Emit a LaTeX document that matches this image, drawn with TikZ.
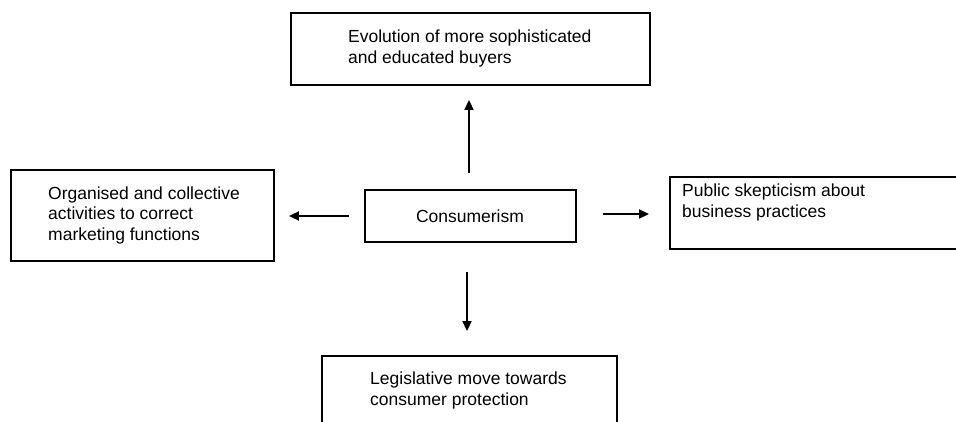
\documentclass[tikz,border=0pt]{standalone}
\usepackage{fontspec}
\setmainfont{Liberation Sans}
\usetikzlibrary{arrows.meta}
\begin{document}
\begin{tikzpicture}[x=1pt,y=-1pt,
  box/.style={draw=black,line width=1.9pt,rectangle,inner sep=0pt},
  label/.style={inner sep=0pt,align=left,font=\fontsize{17.5}{20.5}\selectfont},
  link/.style={line width=1.9pt,-{Triangle[length=10pt,width=9pt]}}]
  \useasboundingbox (0,0) rectangle (956,422);
  \clip (0,0) rectangle (956,422);
  % boxes
  \node[box,minimum width=359pt,minimum height=72pt] (buyers) at (470.5,49) {};
  \node[box,minimum width=263pt,minimum height=91pt] (organised) at (142.5,215.5) {};
  \node[box,minimum width=211pt,minimum height=52pt] (core) at (470.5,216) {};
  \node[box,minimum width=330pt,minimum height=72pt] (public) at (835,213) {};
  \node[box,minimum width=295pt,minimum height=104pt] (legal) at (469.5,408) {};
  % texts
  \node[label,anchor=west] (buyerstext) at (348,48.5) {Evolution of more sophisticated\\and educated buyers};
  \node[label,anchor=west] (organisedtext) at (48,215) {Organised and collective\\activities to correct\\marketing functions};
  \node[label] (coretext) at (470,216) {Consumerism};
  \node[label,anchor=west] (publictext) at (682,202.5) {Public skepticism about\\business practices};
  \node[label,anchor=west] (legaltext) at (370,390.5) {Legislative move towards\\consumer protection};
  % connectors
  \draw[link,shorten <=16pt,shorten >=14pt] ([xshift=-1.5pt]core.north) -- ([xshift=-1.5pt]core.north |- buyers.south);
  \draw[link,shorten <=15pt,shorten >=14pt] (core.west) -- (core.west -| organised.east);
  \draw[link,shorten <=26pt,shorten >=20pt] ([yshift=2pt]core.east) -- ([yshift=2pt]core.east -| public.west);
  \draw[link,shorten <=29pt,shorten >=24pt] ([xshift=-3.5pt]core.south) -- ([xshift=-3.5pt]core.south |- legal.north);
\end{tikzpicture}
\end{document}
